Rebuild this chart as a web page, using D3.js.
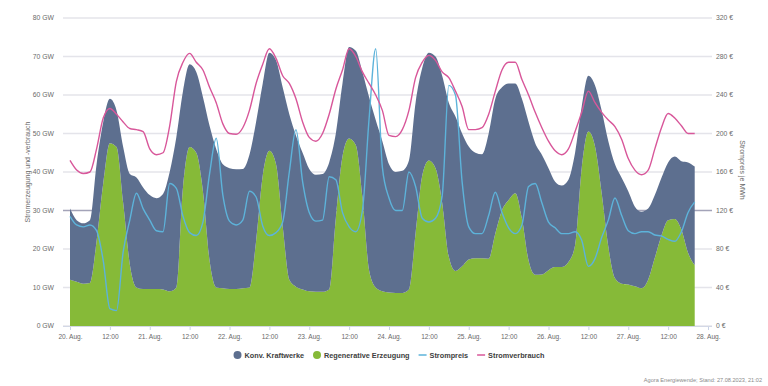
<!DOCTYPE html>
<html>
<head>
<meta charset="utf-8">
<script src="https://cdn.jsdelivr.net/npm/d3@7"></script>
<style>
  html, body { margin: 0; padding: 0; background: #fff; }
  svg { display: block; font-family: "Liberation Sans", Arial, sans-serif; }
</style>
</head>
<body>
<div id="chart"></div>
<script>
// data: one value every 2 hours, starting 20.08.2023 00:00
const startTime = new Date(2023, 7, 20, 0, 0);
const endTime = new Date(2023, 7, 28, 0, 0);
const stepHours = 2;

// GW
const regenerativ = [
  12, 11.5, 11, 11.2, 22, 37, 47.5, 46.5, 32, 16, 10, 9.6,
  9.6, 9.6, 9.5, 9, 10, 36, 46.5, 45, 35, 17, 10, 9.8,
  9.6, 9.6, 9.8, 10, 22, 39, 45.5, 42, 26, 12, 10.2, 9.5,
  9, 8.9, 8.9, 9.5, 28, 44, 48.7, 47, 33.5, 14.5, 10, 9,
  8.7, 8.6, 8.6, 9.5, 24, 39, 43, 41, 32, 18, 14.3, 15.5,
  17.3, 17.6, 17.6, 17.5, 24, 30, 32.7, 34.5, 28, 17, 13.3, 13.4,
  14.5, 15.3, 15.3, 16.6, 21, 41, 50.5, 46.6, 34.5, 20.6, 12.4, 11,
  10.8, 10.3, 9.8, 12, 17.7, 23.5, 27.5, 27.8, 25, 19, 15.8
];
// GW
const konventionell = [
  18.5, 16, 15.7, 16.3, 20, 16, 11.5, 9.5, 14.5, 23.5, 28.6, 26.4,
  24.4, 23.6, 24.8, 31, 39, 25, 21.5, 21, 24.5, 35, 36, 32.2,
  31.4, 31.1, 31, 34.5, 31, 24, 25.5, 27, 36, 43, 39.3, 35.5,
  31.8, 30.4, 30.6, 33, 22, 19, 23.8, 24.5, 32.5, 45, 43.5, 39,
  33.3, 31.4, 31.7, 33.5, 34, 28, 28, 29, 33, 40, 40.1, 34.5,
  29.3, 27.4, 27, 32.5, 35, 32, 30.3, 28.5, 31, 36, 34.2, 31.1,
  26.5, 22.2, 21.2, 21.4, 24, 16, 14.5, 15.9, 21.5, 27.4, 29.6, 27.5,
  24.2, 20.7, 19.9, 18.5, 16.3, 15, 15, 16.2, 17.8, 23.5, 25.6
];
// GW
const verbrauch = [
  43, 40.5, 39.6, 40, 46, 54, 56.5, 55, 53, 51.3, 51, 50.5,
  46, 44.5, 45, 52, 63.5, 68.5, 70.8, 68.5, 66.5, 62, 58, 52.5,
  50, 49.8, 51.5, 56, 63, 68, 72, 69.5, 65, 63, 59, 53,
  49, 48, 50, 55, 61.5, 66.5, 72, 70, 66, 63, 60, 56,
  49.5, 49.2, 51, 56, 64.5, 68.5, 70.3, 69, 66, 64.5, 61, 57,
  51, 51, 51.5, 55, 61, 66.5, 68.5, 68.5, 64, 60, 55.5, 51.5,
  48, 45.5, 44.5, 46, 50.5, 55.5, 61, 58, 55.5, 53.5, 51.8, 48.5,
  43.5, 40.5, 39.3, 40.5, 46, 51.5, 55.2, 54, 52, 50, 50
];
// EUR/MWh
const strompreis = [
  114, 105, 103, 105, 99, 68, 18, 16, 77, 110, 138, 122,
  110, 99, 98, 148, 143, 114, 97, 94, 108, 158, 195, 136,
  109, 105, 110, 140, 134, 104, 94, 97, 108, 160, 204, 150,
  118, 109, 110, 155, 152, 118, 103, 98, 120, 215, 288, 165,
  133, 120, 120, 160, 145, 112, 108, 112, 135, 250, 240, 150,
  103, 96, 96, 115, 139, 118, 102, 96, 105, 145, 148, 128,
  108, 102, 96, 96, 98, 89, 62, 70, 92, 110, 133, 115,
  99, 96, 98, 98, 94.5, 93.5, 90, 88, 98, 118, 129
];

const gwTicks = [0, 10, 20, 30, 40, 50, 60, 70, 80];
const euroTicks = [0, 40, 80, 120, 160, 200, 240, 280, 320];
const seriesNames = ['Konv. Kraftwerke', 'Regenerative Erzeugung', 'Strompreis', 'Stromverbrauch'];
const colors = ['#5d6f8f', '#86ba38', '#5db3da', '#d8579a'];

const W = 768, H = 386;
const plotLeft = 70, plotRight = 708, plotTop = 18, plotBottom = 326;

const svg = d3.select('#chart').append('svg').attr('width', W).attr('height', H);

const rows = regenerativ.map((r, i) => ({
  t: d3.timeHour.offset(startTime, i * stepHours),
  regenerativ: r,
  konventionell: konventionell[i],
  verbrauch: verbrauch[i],
  preis: strompreis[i]
}));

const x = d3.scaleTime().domain([startTime, endTime]).range([plotLeft, plotRight]);
const yGW = d3.scaleLinear().domain([0, 80]).range([plotBottom, plotTop]);
const yEuro = d3.scaleLinear().domain([0, 320]).range([plotBottom, plotTop]);

// grid
svg.append('g').selectAll('line').data(gwTicks).join('line')
  .attr('x1', 63).attr('x2', 712)
  .attr('y1', d => yGW(d)).attr('y2', d => yGW(d))
  .attr('stroke', d => d === 30 ? '#a3a3b8' : '#e4e4ea')
  .attr('stroke-width', 1.3);

// stacked areas
const stack = d3.stack().keys(['regenerativ', 'konventionell']);
const layers = stack(rows);
const area = d3.area()
  .x(d => x(d.data.t))
  .y0(d => yGW(d[0]))
  .y1(d => yGW(d[1]))
  .curve(d3.curveMonotoneX);

svg.append('g').selectAll('path').data(layers).join('path')
  .attr('d', area)
  .attr('fill', (d, i) => i === 0 ? colors[1] : colors[0]);

// lines
const preisLine = d3.line().x(d => x(d.t)).y(d => yEuro(d.preis)).curve(d3.curveMonotoneX);
const verbrauchLine = d3.line().x(d => x(d.t)).y(d => yGW(d.verbrauch)).curve(d3.curveMonotoneX);

svg.append('path').datum(rows).attr('d', preisLine)
  .attr('fill', 'none').attr('stroke', colors[2]).attr('stroke-width', 1.4);
svg.append('path').datum(rows).attr('d', verbrauchLine)
  .attr('fill', 'none').attr('stroke', colors[3]).attr('stroke-width', 1.4);

// x axis
const xAxis = d3.axisBottom(x)
  .ticks(d3.timeHour.every(12))
  .tickSize(4)
  .tickFormat(d => d.getHours() === 0 ? d.getDate() + '. Aug.' : '12:00');

const xg = svg.append('g').attr('transform', `translate(0,${plotBottom})`).call(xAxis);
xg.select('.domain').remove();
xg.selectAll('line').attr('stroke', '#c8d2e6');
xg.selectAll('text').attr('fill', '#6a6a6a').attr('font-size', 6.6).attr('dy', '0.95em')
  .style('font-family', '"Liberation Sans", Arial, sans-serif');
svg.append('line').attr('x1', 63).attr('x2', 712)
  .attr('y1', plotBottom + 0.5).attr('y2', plotBottom + 0.5)
  .attr('stroke', '#d3d8e6').attr('stroke-width', 1);

// y axes labels
svg.append('g').selectAll('text').data(gwTicks).join('text')
  .attr('x', 54).attr('y', d => yGW(d)).attr('dy', '0.35em')
  .attr('text-anchor', 'end').attr('font-size', 6.8).attr('fill', '#6a6a6a')
  .text(d => d + ' GW');

svg.append('g').selectAll('text').data(euroTicks).join('text')
  .attr('x', 716).attr('y', d => yEuro(d)).attr('dy', '0.35em')
  .attr('text-anchor', 'start').attr('font-size', 6.8).attr('fill', '#6a6a6a')
  .text(d => d + ' €');

svg.append('text')
  .attr('transform', 'translate(30,172) rotate(-90)')
  .attr('text-anchor', 'middle').attr('font-size', 7).attr('fill', '#6a6a6a')
  .text('Stromerzeugung und -verbrauch');

svg.append('text')
  .attr('transform', 'translate(740,170) rotate(90)')
  .attr('text-anchor', 'middle').attr('font-size', 7).attr('fill', '#6a6a6a')
  .text('Strompreis je MWh');

// legend
const legend = svg.append('g');
let cursor = 0;
seriesNames.forEach((name, i) => {
  const item = legend.append('g').attr('transform', `translate(${cursor},0)`);
  if (i < 2) {
    item.append('circle').attr('cx', 4).attr('cy', 0).attr('r', 4).attr('fill', colors[i]);
  } else {
    item.append('line').attr('x1', 0).attr('x2', 8).attr('y1', 0).attr('y2', 0)
      .attr('stroke', colors[i]).attr('stroke-width', 1.5);
  }
  const txt = item.append('text').attr('x', 11).attr('dy', '0.35em')
    .attr('font-size', 7.3).attr('font-weight', 'bold').attr('fill', '#404040')
    .text(name);
  cursor += 11 + txt.node().getComputedTextLength() + 9;
});
const legendWidth = cursor - 9;
legend.attr('transform', `translate(${(plotLeft + plotRight) / 2 - legendWidth / 2},355)`);

// credits
svg.append('text')
  .attr('x', 762).attr('y', 382).attr('text-anchor', 'end')
  .attr('font-size', 5.6).attr('fill', '#8a8a8a')
  .text('Agora Energiewende; Stand: 27.08.2023, 21:02');
</script>
</body>
</html>
